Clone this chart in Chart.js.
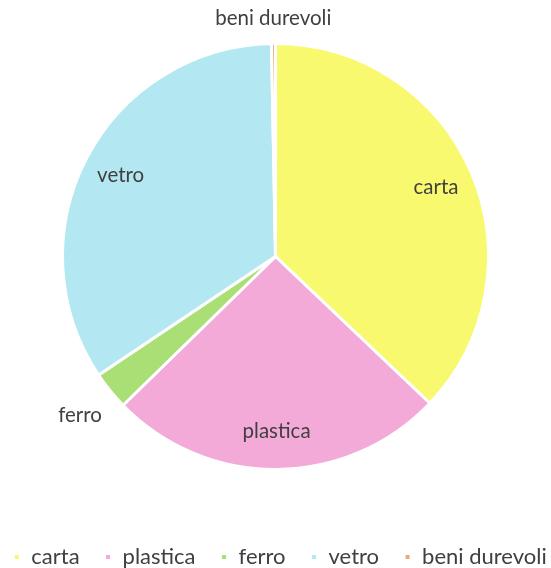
<!DOCTYPE html>
<html>
<head>
<meta charset="utf-8">
<script src="https://cdn.jsdelivr.net/npm/chart.js@4"></script>
<style>
  html, body { margin: 0; padding: 0; background: #fff; overflow: hidden; }
  #wrap { width: 551px; height: 576px; margin-top: -8px; }
</style>
</head>
<body>
<div id="wrap"><canvas id="pie"></canvas></div>
<script>
// Raccolta differenziata, quote per materiale
const categorie = ['carta', 'plastica', 'ferro', 'vetro', 'beni durevoli'];
const quote = [37.1, 25.6, 2.9, 34.1, 0.3];
const colori = ['#f9f96f', '#f3aad8', '#a9df74', '#b3e8f3', '#efaa73'];

const FONT = 'Lato, "Open Sans", sans-serif';

// Etichette: dentro la fetta se è grande, fuori se è piccola
const sliceLabels = {
    id: 'sliceLabels',
    afterDatasetsDraw(chart) {
        const c = chart.ctx;
        const meta = chart.getDatasetMeta(0);
        c.save();
        c.font = '20.5px ' + FONT;
        c.fillStyle = '#404040';
        c.textAlign = 'center';
        c.textBaseline = 'middle';
        meta.data.forEach((arc, i) => {
            const { x, y, startAngle, endAngle, outerRadius } = arc.getProps(['x', 'y', 'startAngle', 'endAngle', 'outerRadius'], true);
            const mid = (startAngle + endAngle) / 2;
            const span = endAngle - startAngle;
            const dx = Math.cos(mid), dy = Math.sin(mid);
            const label = chart.data.labels[i];
            let r;
            if (span > 0.35) {
                r = outerRadius * 0.82;
            } else {
                const w = c.measureText(label).width;
                r = outerRadius + 16 + Math.abs(dx) * w / 2 + Math.abs(dy) * 9;
            }
            c.fillText(label, x + dx * r, y + dy * r);
        });
        c.restore();
    }
};

new Chart(document.getElementById('pie'), {
    type: 'pie',
    data: {
        labels: categorie,
        datasets: [{
            data: quote,
            backgroundColor: colori,
            borderColor: '#ffffff',
            borderWidth: 3
        }]
    },
    options: {
        responsive: true,
        maintainAspectRatio: false,
        animation: false,
        radius: 213,
        layout: { padding: { top: -38, left: -24, right: -33, bottom: -10 } },
        plugins: {
            legend: {
                position: 'bottom',
                labels: {
                    font: { family: FONT, size: 22 },
                    color: '#404040',
                    boxWidth: 7,
                    boxHeight: 7,
                    padding: 25
                }
            },
            tooltip: { enabled: false }
        }
    },
    plugins: [sliceLabels]
});
</script>
</body>
</html>
